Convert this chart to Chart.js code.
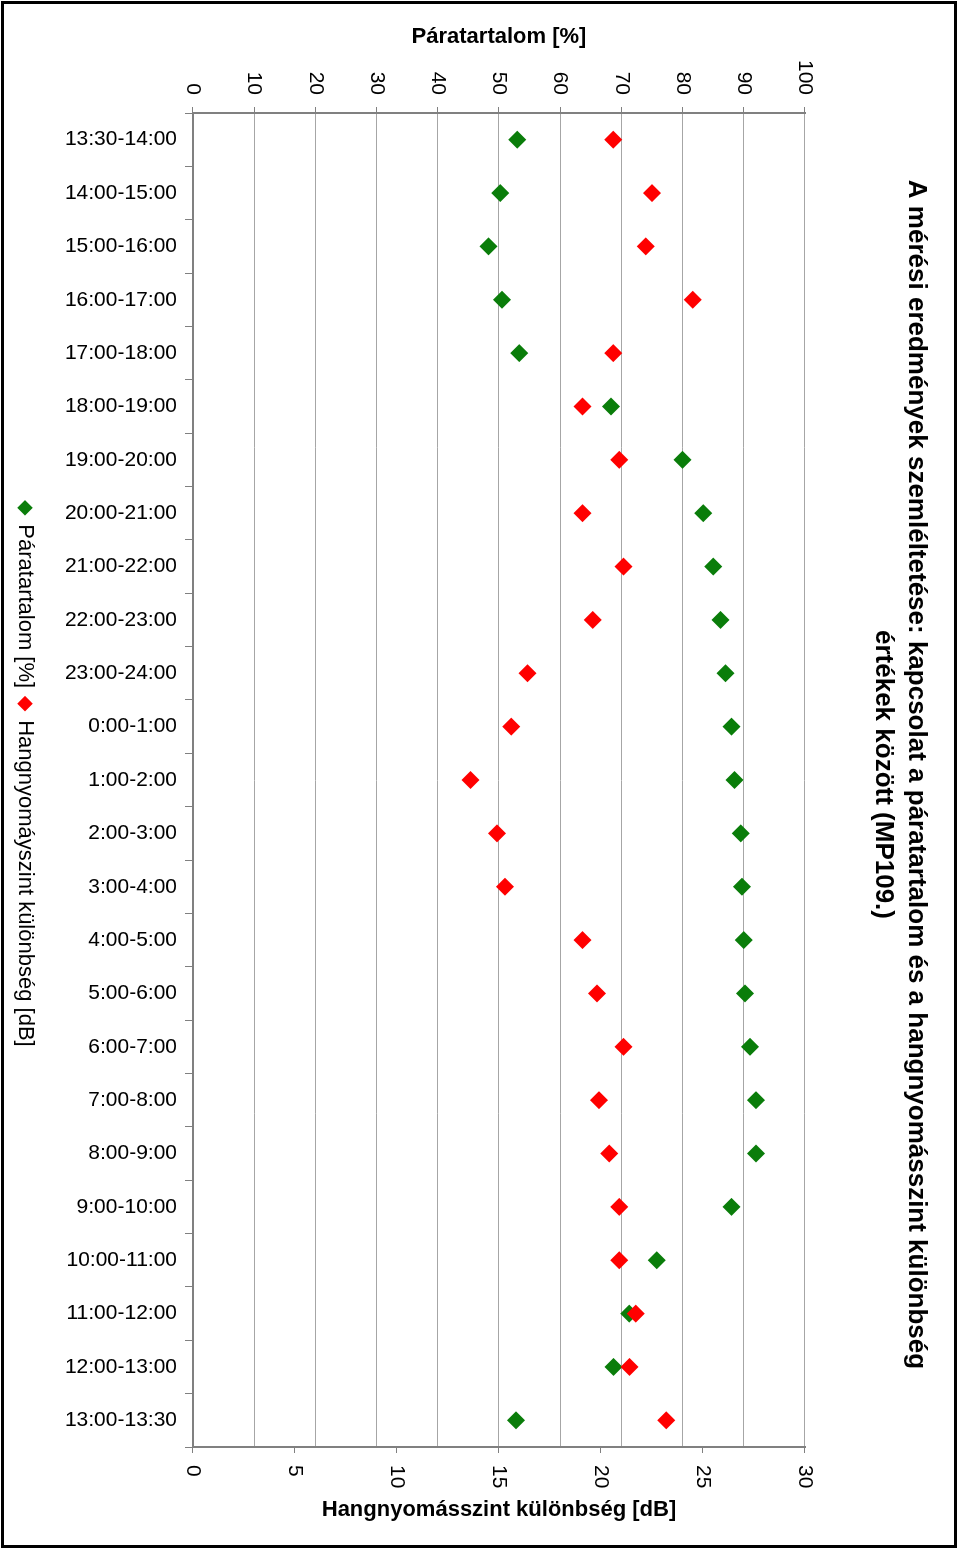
<!DOCTYPE html>
<html>
<head>
<meta charset="utf-8">
<title>Páratartalom és hangnyomásszint különbség (MP109.)</title>
<script src="https://cdn.jsdelivr.net/npm/chart.js@4/dist/chart.umd.min.js"></script>
<style>
  html, body { margin: 0; padding: 0; background: #fff; overflow: hidden; }
  body { width: 960px; height: 1549px; position: relative; }
  /* the chart is laid out landscape and turned a quarter clockwise */
  #chart {
    position: absolute; left: 0; top: 0;
    width: 1549px; height: 960px;
    transform-origin: 0 0;
    transform: translate(960px, 0) rotate(90deg);
  }
</style>
</head>
<body>
<canvas id="chart" width="1549" height="960"></canvas>
<script>
// --- Data ---
const timeSlots = [
  '13:30-14:00', '14:00-15:00', '15:00-16:00', '16:00-17:00', '17:00-18:00',
  '18:00-19:00', '19:00-20:00', '20:00-21:00', '21:00-22:00', '22:00-23:00',
  '23:00-24:00', '0:00-1:00', '1:00-2:00', '2:00-3:00', '3:00-4:00',
  '4:00-5:00', '5:00-6:00', '6:00-7:00', '7:00-8:00', '8:00-9:00',
  '9:00-10:00', '10:00-11:00', '11:00-12:00', '12:00-13:00', '13:00-13:30'
];

// Páratartalom [%]
const humidity = [
  53.0, 50.2, 48.3, 50.5, 53.3, 68.3, 80.0, 83.4, 85.0, 86.2,
  87.0, 88.0, 88.5, 89.5, 89.7, 90.0, 90.2, 91.0, 92.0, 92.0,
  88.0, 75.8, 71.3, 68.7, 52.8
];

// Hangnyomásszint különbség [dB]
const soundDiff = [
  20.6, 22.5, 22.2, 24.5, 20.6, 19.1, 20.9, 19.1, 21.1, 19.6,
  16.4, 15.6, 13.6, 14.9, 15.3, 19.1, 19.8, 21.1, 19.9, 20.4,
  20.9, 20.9, 21.7, 21.4, 23.2
];

const chartTitle = [
  'A mérési eredmények szemléltetése: kapcsolat a páratartalom és a hangnyomásszint különbség',
  'értékek között (MP109.)'
];
const humidityTitle = 'Páratartalom [%]';
const soundTitle = 'Hangnyomásszint különbség [dB]';
const humidityLegend = 'Páratartalom [%]';
const soundLegend = 'Hangnyomáyszint különbség [dB]';

// --- Styles ---
const FONT = '"Liberation Sans", Arial, Helvetica, sans-serif';
const GREEN = '#0a7d0a';
const RED = '#ff0000';
const GRID = '#a6a6a6';
const AXIS = '#808080';

// --- Plugins ---
// white page + black frame
const framePlugin = {
  id: 'frame',
  beforeDraw(chart) {
    const ctx = chart.ctx;
    ctx.save();
    ctx.fillStyle = '#fff';
    ctx.fillRect(0, 0, chart.width, chart.height);
    ctx.restore();
  },
  afterDraw(chart) {
    const ctx = chart.ctx;
    ctx.save();
    ctx.strokeStyle = '#000';
    ctx.lineWidth = 3;
    ctx.strokeRect(2.5, 4.5, chart.width - 5, chart.height - 7);
    ctx.restore();
  }
};

// secondary axis title, turned the same way as the primary one (Excel style)
const rightTitlePlugin = {
  id: 'rightTitle',
  afterDraw(chart) {
    const s = chart.scales.y2;
    const ctx = chart.ctx;
    ctx.save();
    ctx.translate(s.right - 29, (s.top + s.bottom) / 2);
    ctx.rotate(-Math.PI / 2);
    ctx.font = 'bold 22px ' + FONT;
    ctx.fillStyle = '#000';
    ctx.textAlign = 'center';
    ctx.textBaseline = 'middle';
    ctx.fillText(soundTitle, 0, 0);
    ctx.restore();
  }
};

// --- Chart ---
const ctx = document.getElementById('chart').getContext('2d');

new Chart(ctx, {
  type: 'line',
  data: {
    labels: timeSlots,
    datasets: [
      {
        label: humidityLegend,
        data: humidity,
        yAxisID: 'y',
        showLine: false,
        pointStyle: 'rectRot',
        pointRadius: 9,
        pointHoverRadius: 9,
        pointBorderWidth: 0,
        backgroundColor: GREEN,
        borderColor: GREEN,
        order: 1
      },
      {
        label: soundLegend,
        data: soundDiff,
        yAxisID: 'y2',
        showLine: false,
        pointStyle: 'rectRot',
        pointRadius: 9,
        pointHoverRadius: 9,
        pointBorderWidth: 0,
        backgroundColor: RED,
        borderColor: RED,
        order: 0
      }
    ]
  },
  options: {
    responsive: false,
    animation: false,
    devicePixelRatio: 1,
    layout: { padding: { left: 10, right: 10, top: 0, bottom: 4 } },
    plugins: {
      title: {
        display: true,
        text: chartTitle,
        color: '#000',
        font: { family: FONT, size: 26, weight: 'bold', lineHeight: 1.27 },
        padding: { top: 27, bottom: 62 }
      },
      legend: {
        position: 'bottom',
        labels: {
          color: '#000',
          font: { family: FONT, size: 22 },
          usePointStyle: true,
          boxWidth: 11,
          boxHeight: 11,
          padding: 10,
          sort: (a, b) => a.datasetIndex - b.datasetIndex
        }
      },
      tooltip: { enabled: false }
    },
    scales: {
      x: {
        type: 'category',
        offset: true,
        grid: {
          offset: true,
          drawOnChartArea: false,
          tickLength: 8,
          tickColor: AXIS
        },
        border: { color: AXIS, width: 2 },
        ticks: {
          autoSkip: false,
          minRotation: 90,
          maxRotation: 90,
          padding: 8,
          color: '#000',
          font: { family: FONT, size: 21 }
        },
        afterFit(scale) { scale.height = 147; }
      },
      y: {
        position: 'left',
        min: 0,
        max: 100,
        ticks: {
          stepSize: 10,
          padding: 12,
          color: '#000',
          font: { family: FONT, size: 21 }
        },
        grid: { color: GRID, lineWidth: 1, tickLength: 6, tickColor: AXIS },
        border: { color: AXIS, width: 2 },
        title: {
          display: true,
          text: humidityTitle,
          color: '#000',
          font: { family: FONT, size: 22, weight: 'bold', lineHeight: 1.2 },
          padding: { top: 14, bottom: 0 }
        },
        afterFit(scale) { scale.width = 103; }
      },
      y2: {
        position: 'right',
        min: 0,
        max: 30,
        ticks: {
          stepSize: 5,
          padding: 12,
          color: '#000',
          font: { family: FONT, size: 21 }
        },
        grid: { drawOnChartArea: false, tickLength: 6, tickColor: AXIS },
        border: { color: AXIS, width: 2 },
        afterFit(scale) { scale.width = 92; }
      }
    }
  },
  plugins: [framePlugin, rightTitlePlugin]
});
</script>
</body>
</html>
